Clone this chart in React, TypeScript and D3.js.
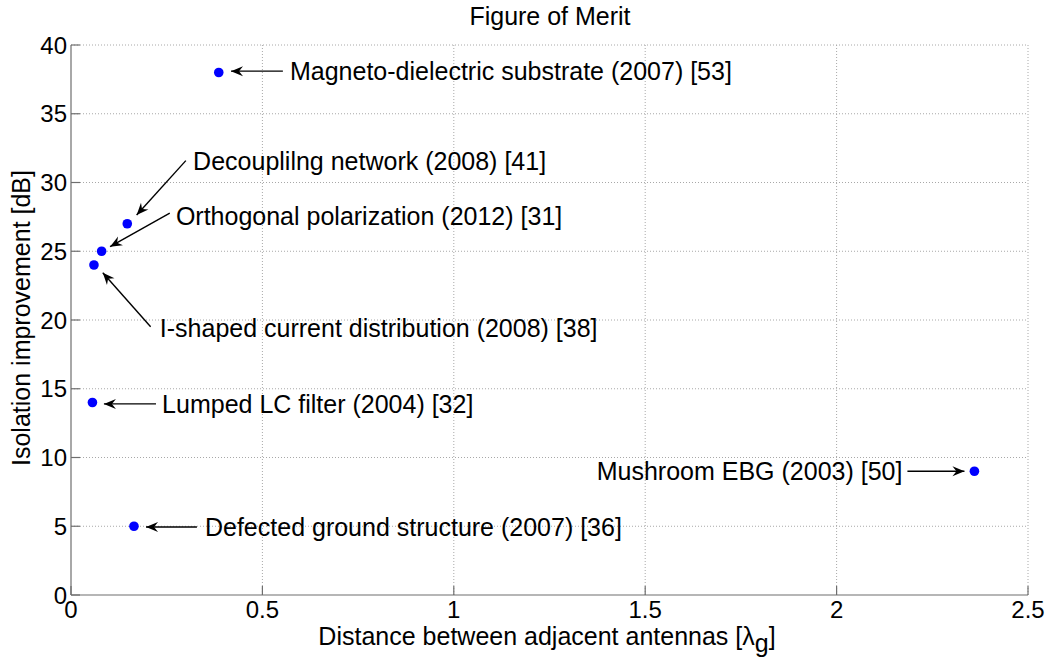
import React from "react";
import * as d3 from "d3";

const pointX = [0.386, 0.147, 0.08, 0.06, 0.056, 0.1645, 2.36];
const pointY = [38, 27, 25, 24, 14, 5, 9];
const labels = [
  "Magneto-dielectric substrate (2007) [53]",
  "Decouplilng network (2008) [41]",
  "Orthogonal polarization (2012) [31]",
  "I-shaped current distribution (2008) [38]",
  "Lumped LC filter (2004) [32]",
  "Defected ground structure (2007) [36]",
  "Mushroom EBG (2003) [50]",
];
// annotation placement in data units: text anchor point, arrow head, arrow tail
const textX = [0.572, 0.319, 0.274, 0.232, 0.238, 0.35, 2.172];
const textY = [38.1, 31.56, 27.6, 19.4, 13.9, 4.95, 9.0];
const textAnchor = ["start", "start", "start", "start", "start", "start", "end"];
const headX = [0.418, 0.1715, 0.102, 0.083, 0.086, 0.196, 2.334];
const headY = [38.1, 27.64, 25.33, 23.44, 13.9, 4.95, 9.0];
const tailX = [0.5535, 0.3, 0.258, 0.208, 0.222, 0.329, 2.185];
const tailY = [38.1, 31.59, 27.78, 19.51, 13.9, 4.95, 9.0];

const xTicks = [0, 0.5, 1, 1.5, 2, 2.5];
const yTicks = [0, 5, 10, 15, 20, 25, 30, 35, 40];

const W = 1047;
const H = 659;
const M = { left: 71, top: 45, right: 19, bottom: 64 };
const FONT = "'Liberation Sans', Arial, Helvetica, sans-serif";

export default function App() {
  const x = d3.scaleLinear().domain([0, 2.5]).range([M.left, W - M.right]);
  const y = d3.scaleLinear().domain([0, 40]).range([H - M.bottom, M.top]);
  const x0 = x(0), x1 = x(2.5), y0 = y(0), y1 = y(40);
  const axisColor = "#6e6e6e";
  const gridColor = "#a8a8a8";

  const arrowHead = (hx: number, hy: number, tx: number, ty: number) => {
    const dx = hx - tx, dy = hy - ty;
    const len = Math.hypot(dx, dy);
    const ux = dx / len, uy = dy / len;
    const px = -uy, py = ux;
    const L = 12, Wd = 5, back = 8;
    const bx = hx - ux * L, by = hy - uy * L;
    const cx = hx - ux * back, cy = hy - uy * back;
    return `M${hx},${hy} L${bx + px * Wd},${by + py * Wd} L${cx},${cy} L${bx - px * Wd},${by - py * Wd} Z`;
  };

  return (
    <svg
      width={W}
      height={H}
      style={{ position: "absolute", left: 0, top: 0, background: "#fff" }}
      fontFamily={FONT}
    >
      <rect x={0} y={0} width={W} height={H} fill="#fff" />
      {/* grid */}
      {yTicks.filter((t) => t !== 0).map((t) => (
        <line key={"gy" + t} x1={x0} x2={x1} y1={y(t)} y2={y(t)} stroke={gridColor} strokeWidth={1} strokeDasharray="1,2" />
      ))}
      {xTicks.filter((t) => t !== 0).map((t) => (
        <line key={"gx" + t} x1={x(t)} x2={x(t)} y1={y0} y2={y1} stroke={gridColor} strokeWidth={1} strokeDasharray="1,2" />
      ))}
      {/* axes */}
      <line x1={x0} x2={x1} y1={y0} y2={y0} stroke={axisColor} strokeWidth={1.2} />
      <line x1={x0} x2={x0} y1={y0} y2={y1} stroke={axisColor} strokeWidth={1.2} />
      {yTicks.map((t) => (
        <g key={"ty" + t}>
          <line x1={x0} x2={x0 + 9} y1={y(t)} y2={y(t)} stroke={axisColor} strokeWidth={1.2} />
          <text x={x0 - 4} y={y(t) + 8.5} textAnchor="end" fontSize={24} fill="#000">
            {t}
          </text>
        </g>
      ))}
      {xTicks.map((t) => (
        <g key={"tx" + t}>
          <line x1={x(t)} x2={x(t)} y1={y0} y2={y0 - 9} stroke={axisColor} strokeWidth={1.2} />
          <text x={x(t)} y={y0 + 23} textAnchor="middle" fontSize={24} fill="#000">
            {t}
          </text>
        </g>
      ))}
      {/* title and axis labels */}
      <text x={550} y={25} textAnchor="middle" fontSize={25} fill="#000">
        Figure of Merit
      </text>
      <text
        transform={`translate(30, 318) rotate(-90)`}
        textAnchor="middle"
        fontSize={25}
        fill="#000"
      >
        Isolation improvement [dB]
      </text>
      <text x={547} y={645} textAnchor="middle" fontSize={25} fill="#000">
        Distance between adjacent antennas [λ
        <tspan dy={7}>g</tspan>
        <tspan dy={-7}>]</tspan>
      </text>
      {/* annotations */}
      {labels.map((lab, i) => {
        const hx = x(headX[i]), hy = y(headY[i]);
        const tx = x(tailX[i]), ty = y(tailY[i]);
        return (
          <g key={"a" + i}>
            <line x1={tx} y1={ty} x2={hx} y2={hy} stroke="#000" strokeWidth={1.4} />
            <path d={arrowHead(hx, hy, tx, ty)} fill="#000" />
            <text
              x={x(textX[i])}
              y={y(textY[i]) + 9}
              textAnchor={textAnchor[i] as any}
              fontSize={25}
              fill="#000"
            >
              {lab}
            </text>
          </g>
        );
      })}
      {/* points */}
      {pointX.map((px, i) => (
        <circle key={"p" + i} cx={x(px)} cy={y(pointY[i])} r={4.8} fill="#0000ff" />
      ))}
    </svg>
  );
}
